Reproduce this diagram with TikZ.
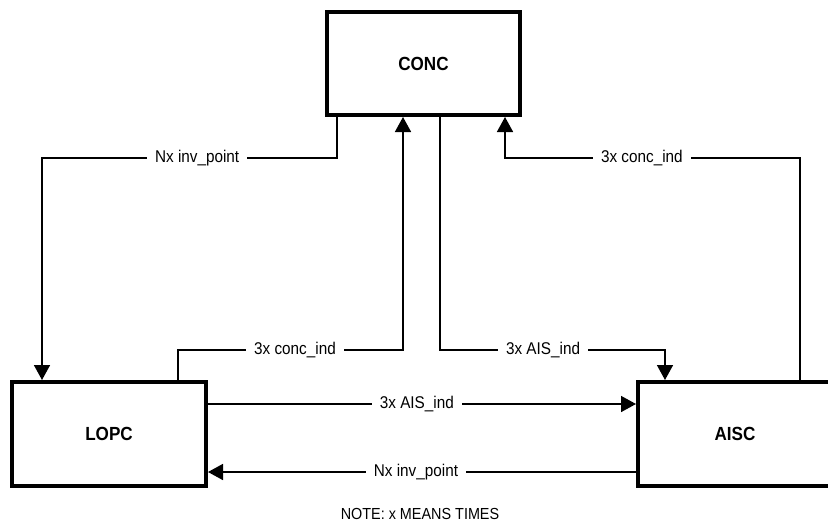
\documentclass[tikz,border=0pt]{standalone}
\usepackage{fontspec}
\setmainfont{Liberation Sans}[FakeStretch=0.9]
\usetikzlibrary{arrows.meta}
\begin{document}
\begin{tikzpicture}[x=1pt,y=-1pt,
  boxnode/.style={draw=black,line width=4pt,fill=white,minimum width=194pt,minimum height=104pt,inner sep=0pt,font=\fontsize{19}{22}\selectfont\bfseries},
  arr/.style={line width=1.6pt,-{Triangle[width=16pt,length=15pt]}},
  lbl/.style={fill=white,inner xsep=8pt,inner ysep=2pt,font=\fontsize{17}{20}\selectfont}]
\useasboundingbox (0,0) rectangle (828,525);
\clip (0,0) rectangle (828,525);
\node[boxnode,minimum width=193pt,minimum height=103pt] (conc) at (423.5,63.5) {CONC};
\node[boxnode] (lopc) at (109,434) {LOPC};
\node[boxnode] (aisc) at (735,434) {AISC};
% Nx inv_point (top left)
\draw[arr] ([xshift=12pt]conc.south west) -- ++(0,41) -| node[lbl,pos=0.237]{Nx inv\_point} ([xshift=32pt]lopc.north west);
% 3x conc_ind (left)
\draw[arr] ([xshift=168pt]lopc.north west) -- ++(0,-30) -| node[lbl,pos=0.26]{3x conc\_ind} ([xshift=78pt]conc.south west);
% 3x AIS_ind (top)
\draw[arr] ([xshift=115pt]conc.south west) -- ++(0,233) -| node[lbl,pos=0.229]{3x AIS\_ind} ([xshift=29pt]aisc.north west);
% 3x conc_ind (right)
\draw[arr] ([xshift=164pt]aisc.north west) -- ++(0,-222) -| node[lbl,pos=0.268]{3x conc\_ind} ([xshift=180pt]conc.south west);
% 3x AIS_ind (middle)
\draw[arr] ([yshift=30pt]lopc.east) -- node[lbl,pos=0.488]{3x AIS\_ind} ([yshift=30pt]aisc.west);
% Nx inv_point (bottom)
\draw[arr] ([yshift=-38pt]aisc.west) -- node[lbl,pos=0.514]{Nx inv\_point} ([yshift=-38pt]lopc.east);
\node[font=\fontsize{16}{19}\selectfont] (note) at (420,514) {NOTE: x MEANS TIMES};
\end{tikzpicture}
\end{document}
